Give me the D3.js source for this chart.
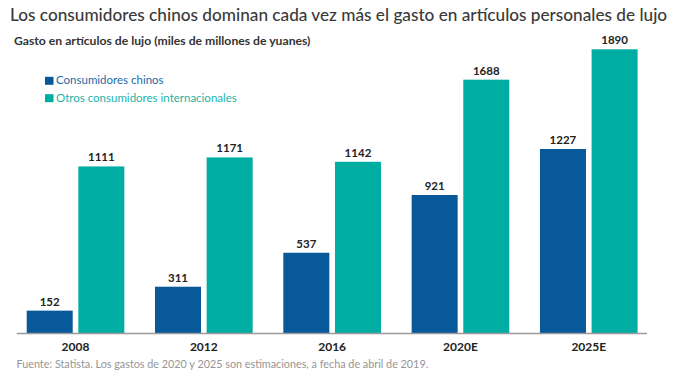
<!DOCTYPE html>
<html><head><meta charset="utf-8">
<script src="https://cdn.jsdelivr.net/npm/d3@7"></script>
<style>
html,body{margin:0;padding:0;background:#fff;}
svg{display:block;font-family:Lato, "Noto Sans", sans-serif;}
</style></head>
<body><svg id="chart" width="681" height="379"></svg>
<script>
const categories = ["2008","2012","2016","2020E","2025E"];
const seriesNames = ["Consumidores chinos","Otros consumidores internacionales"];
const chinos = [152,311,537,921,1227];
const otros = [1111,1171,1142,1688,1890];
const colors = ["#07599a","#00ada2"];
const legendTextColors = ["#1e6aa3","#22b3a8"];

const svg = d3.select("#chart");
const W = 681, H = 379;
const baseY = 333.5;

const x0 = d3.scaleBand().domain(categories).range([11.3, 653]).paddingInner(0.239).paddingOuter(0.12);
const x1 = d3.scaleBand().domain([0,1]).range([0, x0.bandwidth()]).paddingInner(0.109);
const y = d3.scaleLinear().domain([0, 1890]).range([baseY, 49.3]);

// title
svg.append("text").attr("x",10).attr("y",21).attr("font-size",17.2).attr("fill","#3a3a3a")
  .attr("font-weight",500)
  .text("Los consumidores chinos dominan cada vez más el gasto en artículos personales de lujo");
svg.append("text").attr("x",14).attr("y",45).attr("font-size",12.2).attr("fill","#333")
  .attr("font-weight",700)
  .text("Gasto en artículos de lujo (miles de millones de yuanes)");

// bars
const data = categories.map((c,i)=>({c, vals:[chinos[i], otros[i]]}));
const g = svg.append("g");
const groups = g.selectAll("g.grp").data(data).join("g").attr("class","grp")
  .attr("transform", d=>`translate(${x0(d.c)},0)`);
groups.selectAll("rect").data(d=>d.vals.map((v,k)=>({v,k}))).join("rect")
  .attr("x", d=>x1(d.k)).attr("width", x1.bandwidth())
  .attr("y", d=>y(d.v)).attr("height", d=>baseY - y(d.v))
  .attr("fill", d=>colors[d.k]);
groups.selectAll("text.val").data(d=>d.vals.map((v,k)=>({v,k}))).join("text")
  .attr("class","val")
  .attr("x", d=>x1(d.k)+x1.bandwidth()/2).attr("y", d=>y(d.v)-5)
  .attr("text-anchor","middle").attr("font-size",11.5).attr("font-weight",700).attr("fill","#222")
  .text(d=>d.v);

// axis
const axis = svg.append("g").attr("transform",`translate(0,${baseY})`)
  .call(d3.axisBottom(x0).tickSize(0).tickPadding(9));
axis.select(".domain").attr("d","M16.7,0H647").attr("stroke","#9a9a9a").attr("stroke-width",1.5);
axis.selectAll("text").attr("font-family","Lato, sans-serif").attr("font-size",12).attr("font-weight",700).attr("fill","#222");

// legend
const leg = svg.append("g");
[84.3, 101.7].forEach((yy,i)=>{
  leg.append("rect").attr("x",45).attr("y",yy-7.5).attr("width",8.5).attr("height",8).attr("fill",colors[i]);
  leg.append("text").attr("x",56).attr("y",yy).attr("font-size",11.5).attr("fill",legendTextColors[i]).text(seriesNames[i]);
});

// footer
svg.append("text").attr("x",16.5).attr("y",368).attr("font-size",10.8).attr("fill","#959595")
  .text("Fuente: Statista. Los gastos de 2020 y 2025 son estimaciones, a fecha de abril de 2019.");
</script></body></html>
